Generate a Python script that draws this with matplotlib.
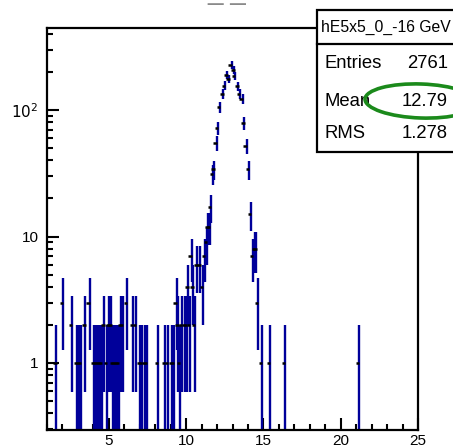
import numpy as np
import matplotlib
matplotlib.use("Agg")
import matplotlib.pyplot as plt
from matplotlib.patches import Rectangle, Ellipse
from matplotlib.lines import Line2D
from matplotlib.ticker import FixedLocator, FixedFormatter, LogLocator, MultipleLocator

plt.rcParams['font.family'] = ['Liberation Sans', 'DejaVu Sans']

# bin centres (GeV) and counts
bin_x = [1.61, 2.04, 2.61, 2.93, 3.06, 3.19, 3.49, 3.75,
         4.03, 4.16, 4.29, 4.42, 4.55, 4.71, 4.87, 5.03, 5.16, 5.26, 5.39,
         5.52, 5.65, 5.78, 5.91, 6.17, 6.55, 6.75, 7.01, 7.14, 7.33, 7.46,
         8.17, 8.62, 8.82, 9.06, 9.21, 9.38, 9.49, 9.60, 9.72, 9.92, 10.05,
         10.15, 10.24, 10.35, 10.46, 10.57, 10.73, 10.92, 11.10, 11.21, 11.34,
         11.44, 11.54, 11.62, 11.72, 11.83, 11.97, 12.04, 12.18, 12.40, 12.51,
         12.66, 12.79, 12.94, 13.11, 13.16, 13.37, 13.48, 13.65, 13.76, 13.91,
         14.06, 14.19, 14.32, 14.45, 14.55, 14.64, 14.90, 15.42, 16.39, 21.18]
counts = [1, 3, 2, 1, 1, 1, 2, 3,
          1, 1, 1, 1, 1, 2, 1, 2, 2, 1, 1,
          1, 1, 2, 2, 3, 2, 2, 1, 1, 1, 1,
          1, 1, 1, 1, 1, 3, 2, 1, 2, 2, 2,
          4, 2, 7, 4, 2, 6, 6, 4, 7, 9,
          12, 12, 17, 31, 34, 55, 72, 106, 134, 156,
          190, 176, 228, 208, 187, 155, 134, 122, 79, 52,
          34, 15, 7, 8, 8, 3, 1, 1, 1, 1]

hist_name = "hE5x5_0_-16 GeV"
stat_names = ["Entries", "Mean", "RMS"]
stat_values = ["2761", "12.79", "1.278"]

W, H = 453, 448
fig = plt.figure(figsize=(W / 100, H / 100), dpi=100)
ax = fig.add_axes([47 / W, 18 / H, 371 / W, 402 / H])

x = np.array(bin_x)
y = np.array(counts, dtype=float)
err = np.sqrt(y)
lo = np.maximum(y - err, 1e-3)
hi = y + err

ax.vlines(x, lo, hi, color='#00009a', lw=1.7, zorder=2)
ax.hlines(y, x - 0.2, x + 0.02, color='black', lw=1.8, zorder=3)

ax.set_yscale('log')
ax.set_xlim(1, 25)
ax.set_ylim(0.295, 446)

ax.xaxis.set_major_locator(MultipleLocator(5))
ax.xaxis.set_minor_locator(MultipleLocator(1))
ax.yaxis.set_major_locator(FixedLocator([1, 10, 100]))
ax.yaxis.set_major_formatter(FixedFormatter(['1', '10', r'$10^{2}$']))
ax.yaxis.set_minor_locator(LogLocator(base=10, subs=np.arange(2, 10)))
ax.yaxis.set_minor_formatter(FixedFormatter([]))

ax.tick_params(which='both', direction='in', top=False, right=False,
               width=1.5, labelsize=11, pad=3)
ax.tick_params(which='major', length=8.5)
ax.tick_params(which='minor', length=4.3)
ax.tick_params(axis='y', pad=6)
for s in ax.spines.values():
    s.set_linewidth(1.6)

# cropped title at the very top
fig.text(207 / W, 1 + 1 / H, "_ _", fontsize=20, color='#8a8a8a',
         ha='left', va='baseline')

# stats box
bx0, by_top, by_sep, by_bot = 317, 10, 44, 152
fig.patches.append(Rectangle((bx0 / W, 1 - by_bot / H), (W + 20 - bx0) / W,
                             (by_bot - by_top) / H, transform=fig.transFigure,
                             facecolor='white', edgecolor='black', lw=1.6,
                             zorder=5, clip_on=False))
fig.lines.append(Line2D([bx0 / W, 1.05], [1 - by_sep / H, 1 - by_sep / H],
                        transform=fig.transFigure, color='black', lw=1.6, zorder=6))
fig.text(321 / W, 1 - 27 / H, hist_name, fontsize=11.3, ha='left', va='center', zorder=7)
row_y = [63, 101, 134]
for name, val, ry in zip(stat_names, stat_values, row_y):
    fig.text(324 / W, 1 - ry / H, name, fontsize=13.3, ha='left', va='center', zorder=7)
    fig.text(448 / W, 1 - ry / H, val, fontsize=13.3, ha='right', va='center', zorder=7)

fig.patches.append(Ellipse((421 / W, 1 - 101 / H), 112 / W, 34 / H, angle=-2,
                           transform=fig.transFigure, facecolor='none',
                           edgecolor='#1b8a1b', lw=2.6, zorder=8))

fig.savefig("out.png", dpi=100)
